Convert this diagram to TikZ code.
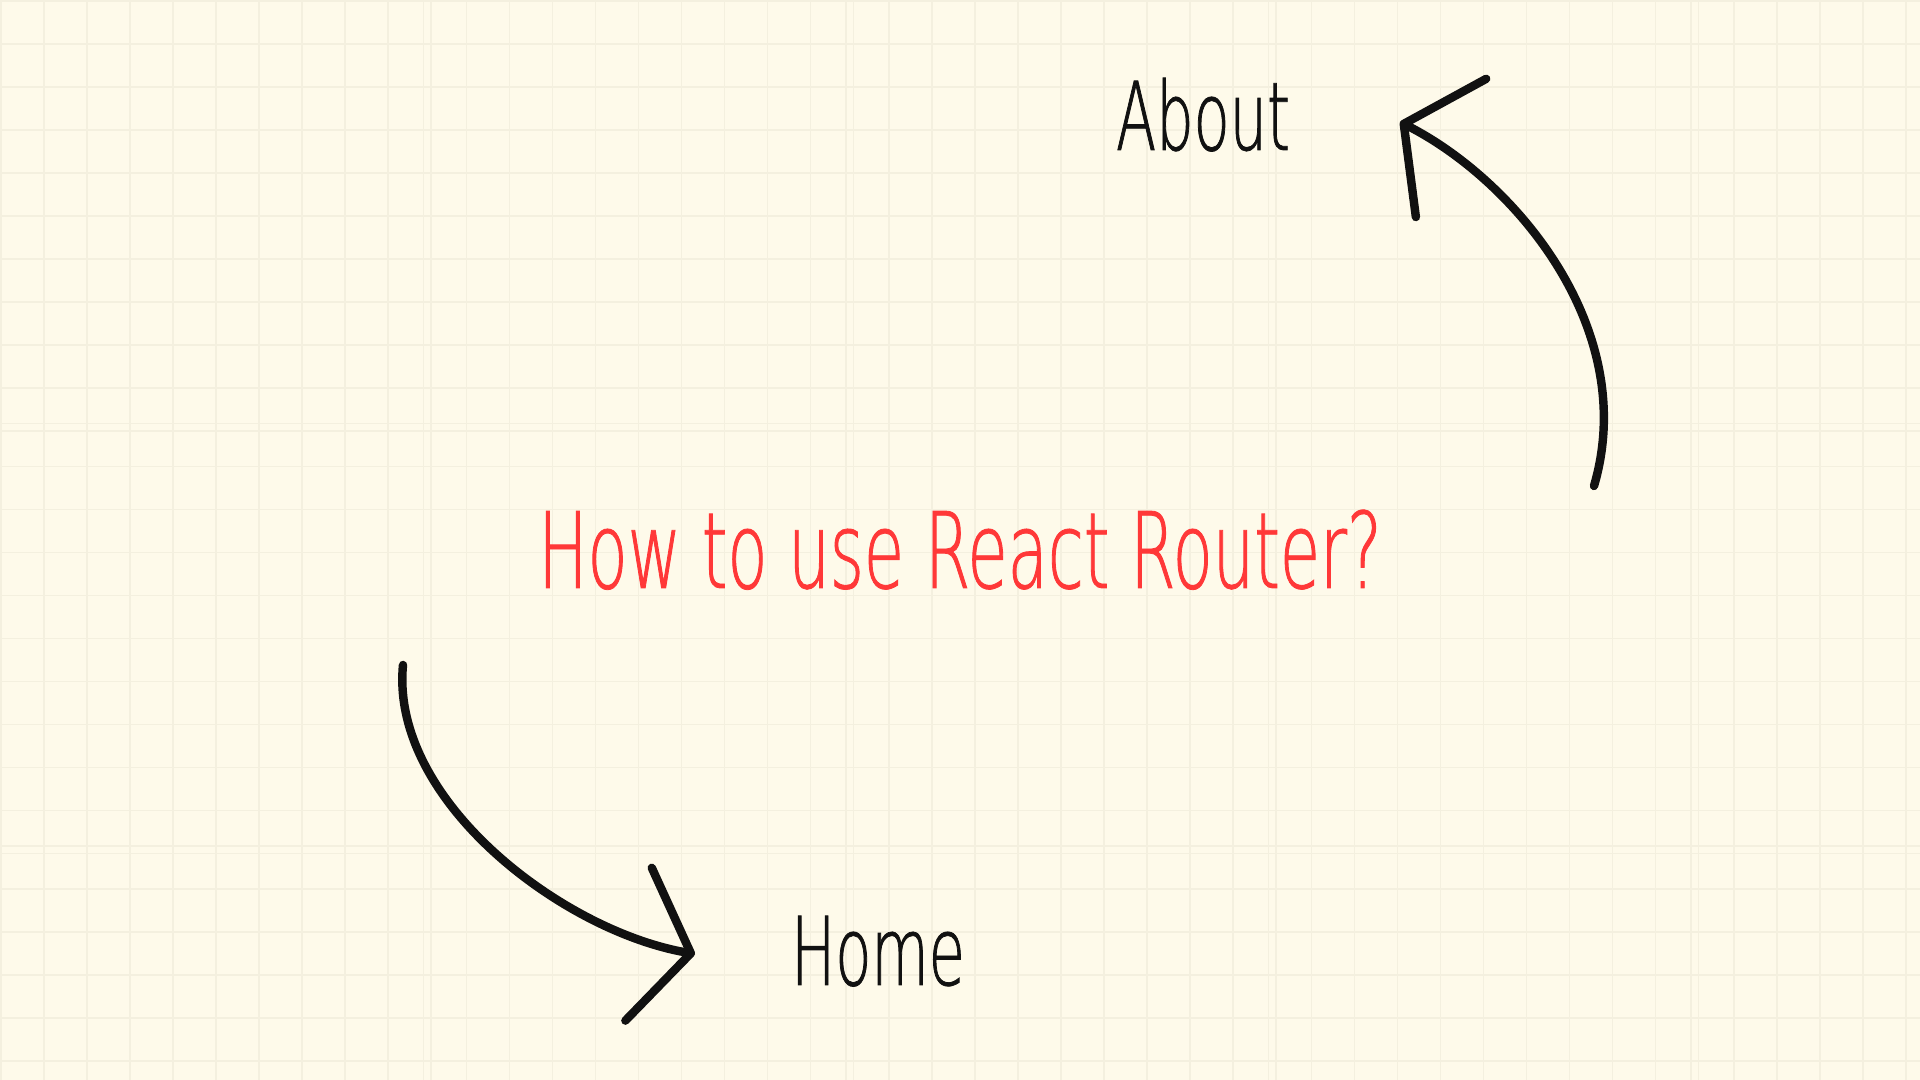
\documentclass[tikz,border=0pt]{standalone}
\usepackage{fontspec}
\usetikzlibrary{arrows.meta,positioning}
\newfontfamily\handfont{DejaVuSans-ExtraLight.ttf}[FakeStretch=0.62,FakeBold=0.8]
\definecolor{Paper}{HTML}{FEFAEA}
\definecolor{GridLine}{HTML}{F4F0DF}
\definecolor{Ink}{HTML}{111111}
\definecolor{RedInk}{HTML}{FF3838}

\begin{document}
\begin{tikzpicture}[x=0.01cm,y=-0.01cm,
    every node/.style={inner sep=0pt, outer sep=0pt},
    grid line/.style={draw=GridLine, line width=0.55pt},
    title text/.style={font=\handfont\fontsize{30}{30}\selectfont, text=RedInk, anchor=base},
    label text/.style={font=\handfont\fontsize{27}{27}\selectfont, text=Ink, anchor=base},
    sketch arrow/.style={draw=Ink, line width=2.4pt, line cap=round, line join=round,
      -{Straight Barb[length=5.3mm,width=15.5mm,round]}}]
  \useasboundingbox (0,0) rectangle (1920,1080);
  % paper with squared grid
  \fill[Paper] (0,0) rectangle (1920,1080);
  \begin{scope}
    \clip (0,0) rectangle (1920,1080);
    \foreach \t in {0,...,4}{
      \foreach \k in {0,...,10}
        \draw[grid line] ({\t*422.5+1+43*\k},0) -- ++(0,1080);
    }
    \foreach \t in {0,1,2}{
      \foreach \k in {0,...,10}
        \draw[grid line] (0,{\t*422.5+1+43*\k}) -- ++(1920,0);
    }
  \end{scope}

  \node[title text] (title) at (960,588) {How to use React Router?};
  \node[label text] (about) at (1203,150) {About};
  \node[label text] (home) at (878,985) {Home};

  \coordinate (aboutTail) at (1594,486);
  \coordinate (aboutTip) at (1400,122);
  \coordinate (homeTail) at (403,665);
  \coordinate (homeTip) at (695,954);

  \draw[sketch arrow] (aboutTail) .. controls (1640,330) and (1516,181) .. (aboutTip);
  \draw[sketch arrow] (homeTail) .. controls (390,800) and (562,931) .. (homeTip);
\end{tikzpicture}
\end{document}
